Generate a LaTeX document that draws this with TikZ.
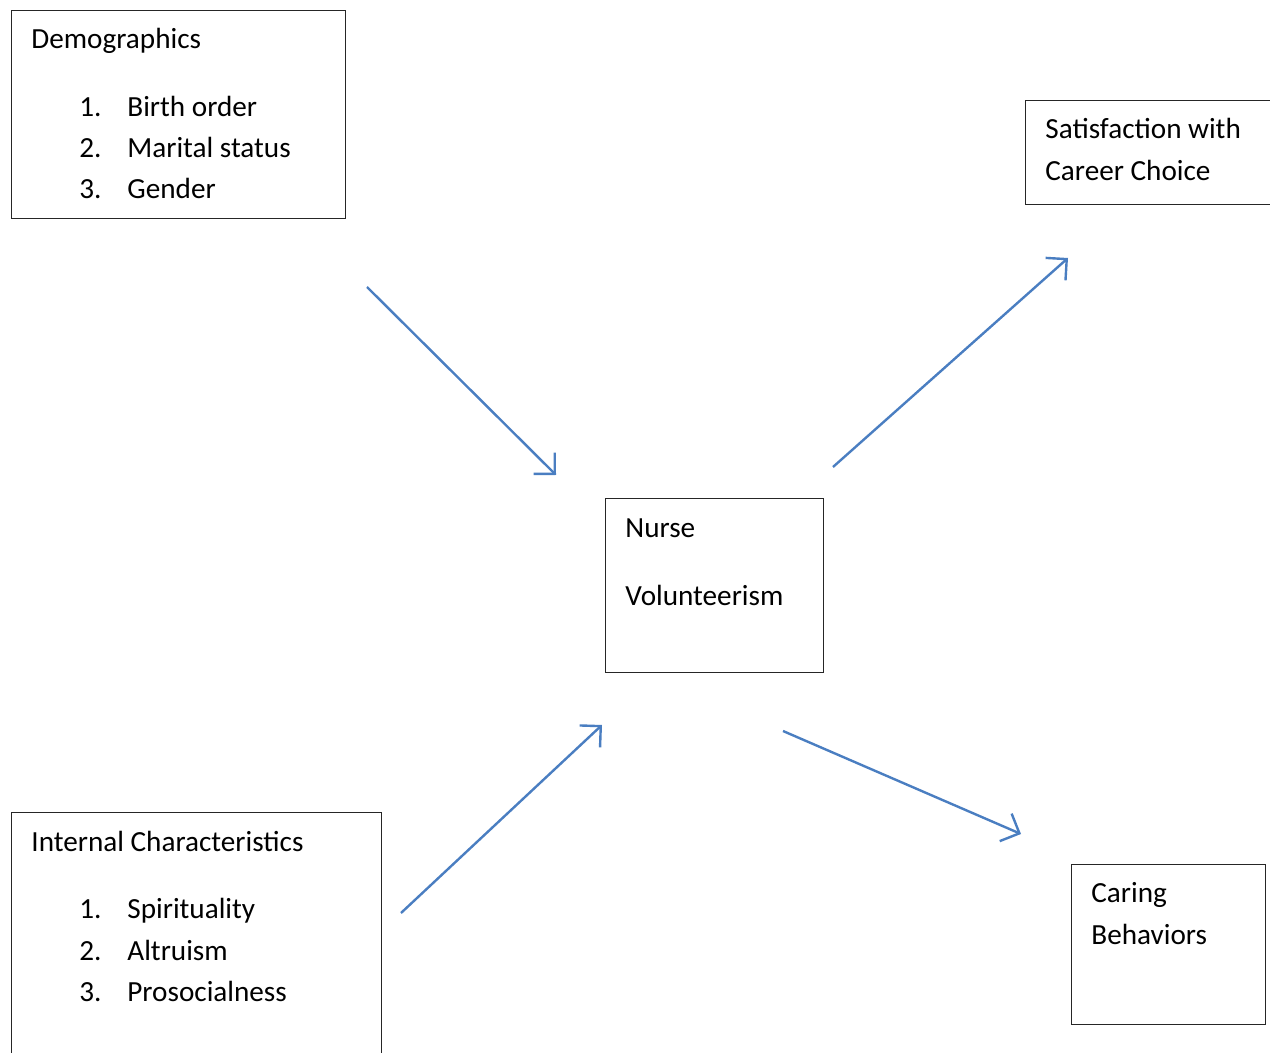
\documentclass[tikz,border=0pt]{standalone}
\usepackage{fontspec}
\setmainfont{Carlito}
\usepackage{tikz}
\usetikzlibrary{arrows.meta}
\definecolor{linkblue}{RGB}{74,126,193}

\begin{document}
\begin{tikzpicture}[x=0.5pt,y=-0.5pt,>={Straight Barb[length=7.5pt,width=15pt]},
    box/.style={draw=black!85,line width=0.7pt,anchor=north west,inner sep=0pt},
    txt/.style={anchor=base west,inner sep=0pt,font=\fontsize{14.6}{17}\selectfont},
    link/.style={->,draw=linkblue,line width=1.2pt}]
    \useasboundingbox (0,0) rectangle (1270,1053);
    \clip (0,0) rectangle (1270,1053);

    % boxes
    \node[box, minimum width=167pt, minimum height=104pt]   (demo)  at (11,10)    {};
    \node[box, minimum width=132.5pt, minimum height=52pt]  (sat)   at (1025,100) {};
    \node[box, minimum width=109pt, minimum height=87pt]    (nurse) at (605,498)  {};
    \node[box, minimum width=185pt, minimum height=129pt]   (intl)  at (11,812)   {};
    \node[box, minimum width=97pt, minimum height=80pt]     (care)  at (1071,864) {};

    % texts
    \node[txt] (demohead) at (31,48.5)   {Demographics};
    \node[txt] (demo1n)   at (79,116.5)  {1.};
    \node[txt] (demo1)    at (127,116.5) {Birth order};
    \node[txt] (demo2n)   at (79,157.5)  {2.};
    \node[txt] (demo2)    at (127,157.5) {Marital status};
    \node[txt] (demo3n)   at (79,198.5)  {3.};
    \node[txt] (demo3)    at (127,198.5) {Gender};

    \node[txt] (sat1) at (1045,138.5) {Satisfaction with};
    \node[txt] (sat2) at (1045,180.5) {Career Choice};

    \node[txt] (nurse1) at (625,537.5) {Nurse};
    \node[txt] (nurse2) at (625,605.5) {Volunteerism};

    \node[txt] (intlhead) at (31,851.5)   {Internal Characteristics};
    \node[txt] (intl1n)   at (79,918.5)   {1.};
    \node[txt] (intl1)    at (127,918.5)  {Spirituality};
    \node[txt] (intl2n)   at (79,960.5)   {2.};
    \node[txt] (intl2)    at (127,960.5)  {Altruism};
    \node[txt] (intl3n)   at (79,1001.5)  {3.};
    \node[txt] (intl3)    at (127,1001.5) {Prosocialness};

    \node[txt] (care1) at (1091,902.5) {Caring};
    \node[txt] (care2) at (1091,944.5) {Behaviors};

    % arrow ends
    \coordinate (demo-out)  at (367,287);
    \coordinate (nurse-in1) at (556,475);
    \coordinate (nurse-out1) at (833,467);
    \coordinate (sat-in)    at (1068,258);
    \coordinate (intl-out)  at (401,913);
    \coordinate (nurse-in2) at (602,725);
    \coordinate (nurse-out2) at (783,731);
    \coordinate (care-in)   at (1021,834);

    \draw[link] (demo-out) -- (nurse-in1);
    \draw[link] (nurse-out1) -- (sat-in);
    \draw[link] (intl-out) -- (nurse-in2);
    \draw[link] (nurse-out2) -- (care-in);
\end{tikzpicture}
\end{document}
